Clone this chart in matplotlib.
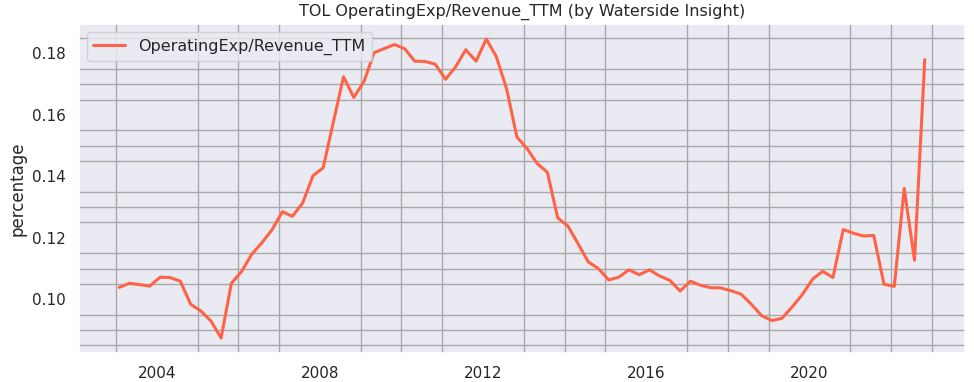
import pandas as pd
import matplotlib
matplotlib.use('Agg')
import matplotlib.pyplot as plt
import matplotlib.dates as mdates
from matplotlib.ticker import MultipleLocator
import seaborn as sns

# quarterly ratio values, Jan 2003 .. Oct 2022
ratio_2003_2007 = [0.1039, 0.1052, 0.1048, 0.1043, 0.1072, 0.1071, 0.1059, 0.0984,
                   0.0962, 0.0930, 0.0874, 0.1052, 0.1091, 0.1146, 0.1184, 0.1227,
                   0.1285, 0.1270, 0.1313, 0.1402]
ratio_2008_2012 = [0.1428, 0.1575, 0.1724, 0.1657, 0.1709, 0.1802, 0.1816, 0.1829,
                   0.1815, 0.1775, 0.1774, 0.1765, 0.1716, 0.1756, 0.1812, 0.1775,
                   0.1847, 0.1789, 0.1684, 0.1528]
ratio_2013_2017 = [0.1490, 0.1442, 0.1413, 0.1265, 0.1238, 0.1182, 0.1122, 0.1100,
                   0.1063, 0.1072, 0.1096, 0.1080, 0.1096, 0.1076, 0.1062, 0.1027,
                   0.1059, 0.1046, 0.1038, 0.1037]
ratio_2018_2022 = [0.1028, 0.1017, 0.0984, 0.0947, 0.0931, 0.0938, 0.0975, 0.1016,
                   0.1066, 0.1091, 0.1071, 0.1227, 0.1215, 0.1206, 0.1208, 0.1049,
                   0.1042, 0.1361, 0.1127, 0.1780]

values = ratio_2003_2007 + ratio_2008_2012 + ratio_2013_2017 + ratio_2018_2022
dates = pd.date_range('2003-01-31', periods=len(values), freq=pd.offsets.MonthEnd(3))
sr = pd.Series(values, index=dates)

sns.set_theme(style='darkgrid')
plt.rcParams['font.family'] = ['DejaVu Sans']

fig = plt.figure(figsize=(9.74, 3.82), dpi=100)
ax = fig.add_axes([0.0811, 0.0759, 0.9097, 0.8611])

ax.plot(sr.index, sr.values, color='#ff6347', linewidth=2.2,
        label='OperatingExp/Revenue_TTM')
ax.legend(loc='upper left', fontsize=11.5)

ax.set_title('TOL OperatingExp/Revenue_TTM (by Waterside Insight)', fontsize=11.5)
ax.set_ylabel('percentage')

# 눈금: 4년마다 라벨, 1년마다 보조 격자
ax.xaxis.set_major_locator(mdates.YearLocator(4))
ax.xaxis.set_major_formatter(mdates.DateFormatter('%Y'))
ax.xaxis.set_minor_locator(mdates.YearLocator(1))
ax.yaxis.set_major_locator(MultipleLocator(0.02))
ax.yaxis.set_minor_locator(MultipleLocator(0.005))
ax.grid(which='major', visible=False)
ax.grid(which='minor', color='#a8a8a8', linewidth=1.0)

fig.savefig('out.png', dpi=100)
